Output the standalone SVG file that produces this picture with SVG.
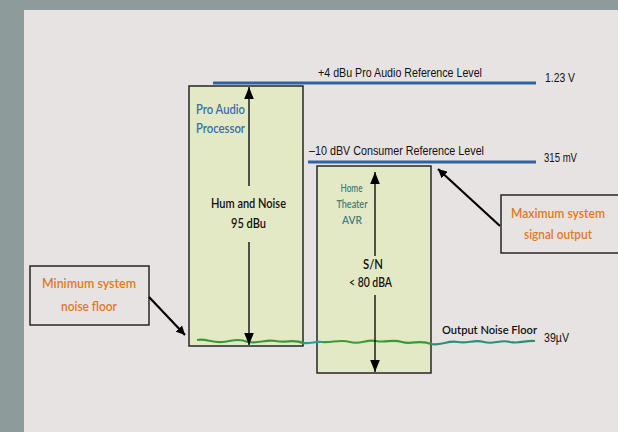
<svg xmlns="http://www.w3.org/2000/svg" width="618" height="432" viewBox="0 0 618 432">
<defs>
<style>
.lbl{font-family:"Liberation Sans",Arial,sans-serif;font-size:12.5px;fill:#111}
.cal{font-family:"Lato","Open Sans",sans-serif;font-size:13px;font-weight:600}
.sm{font-size:12px}
.box{fill:#e4e9c5;stroke:#1a1a1a;stroke-width:1.4}
.call{fill:none;stroke:#1a1a1a;stroke-width:1.4}
.ref{stroke:#2f64a4;stroke-width:3;fill:none}
.arr{stroke:#000;stroke-width:1.3;fill:none}
</style>
<marker id="ah" viewBox="0 0 10 10" refX="10" refY="5" markerWidth="9" markerHeight="9" markerUnits="userSpaceOnUse" orient="auto"><path d="M0,0 L10,5 L0,10 Z" fill="#000"/></marker>
<marker id="ah2" viewBox="0 0 10 10" refX="10" refY="5" markerWidth="12" markerHeight="12" markerUnits="userSpaceOnUse" orient="auto"><path d="M0,1 L10,5 L0,9 Z" fill="#000"/></marker>
</defs>
<rect x="0" y="0" width="618" height="432" fill="#8d9b9b"/>
<rect x="24" y="10" width="594" height="422" fill="#e8e3e3"/>

<g id="pro-audio-processor">
<rect class="box" x="189" y="86" width="114" height="260"/>
<text class="cal" x="196" y="114" fill="#3a6fa8" textLength="49" lengthAdjust="spacingAndGlyphs">Pro Audio</text>
<text class="cal" x="196" y="133" fill="#3a6fa8" textLength="49" lengthAdjust="spacingAndGlyphs">Processor</text>
<text class="cal" x="248.5" y="208" fill="#111" text-anchor="middle" textLength="75" lengthAdjust="spacingAndGlyphs">Hum and Noise</text>
<text class="cal" x="248.5" y="228" fill="#111" text-anchor="middle" textLength="35" lengthAdjust="spacingAndGlyphs">95 dBu</text>
</g>

<g id="home-theater-avr">
<rect class="box" x="317" y="166" width="114" height="207"/>
<text class="cal sm" x="351.5" y="192" fill="#3c7d82" text-anchor="middle" textLength="22" lengthAdjust="spacingAndGlyphs">Home</text>
<text class="cal sm" x="352" y="208" fill="#3c7d82" text-anchor="middle" textLength="31" lengthAdjust="spacingAndGlyphs">Theater</text>
<text class="cal sm" x="352" y="224" fill="#3c7d82" text-anchor="middle" textLength="20" lengthAdjust="spacingAndGlyphs">AVR</text>
<text class="cal" x="373" y="269" fill="#111" text-anchor="middle" textLength="20" lengthAdjust="spacingAndGlyphs">S/N</text>
<text class="cal" x="370.5" y="287" fill="#111" text-anchor="middle" textLength="43" lengthAdjust="spacingAndGlyphs">&lt; 80 dBA</text>
</g>

<g id="pro-reference-level">
<line class="ref" x1="213" y1="83" x2="536" y2="83"/>
<text class="lbl" x="318" y="77" textLength="164" lengthAdjust="spacingAndGlyphs">+4 dBu Pro Audio Reference Level</text>
<text class="lbl" x="545" y="82" textLength="30" lengthAdjust="spacingAndGlyphs">1.23 V</text>
</g>

<g id="consumer-reference-level">
<line class="ref" x1="308" y1="162" x2="536" y2="162"/>
<text class="lbl" x="309" y="155" textLength="175" lengthAdjust="spacingAndGlyphs">–10 dBV Consumer Reference Level</text>
<text class="lbl" x="544" y="162" textLength="33" lengthAdjust="spacingAndGlyphs">315 mV</text>
</g>

<g id="output-noise-floor">
<path d="M197,340 C205,338 212,343 222,342 C232,341 238,338 248,342 C258,344 266,339 276,341 C286,343 294,339 303,343" fill="none" stroke="#3b9a35" stroke-width="2.2"/>
<path d="M303,343 C310,344 316,341 322,342" fill="none" stroke="#2f9a98" stroke-width="2.2"/>
<path d="M322,342 C332,343 340,339 350,342 C360,345 366,339 376,341 C386,343 392,339 402,342 C412,345 420,339 431,344" fill="none" stroke="#3b9a35" stroke-width="2.2"/>
<path d="M431,344 C441,346 448,340 458,342 C468,344 474,339 484,342 C494,345 500,339 510,342 C520,344 526,340 535,341" fill="none" stroke="#2c8f78" stroke-width="2.2"/>
<text class="cal sm" x="442" y="334" fill="#111" font-weight="bold" textLength="95" lengthAdjust="spacingAndGlyphs">Output Noise Floor</text>
<text class="lbl" x="544" y="342" textLength="25" lengthAdjust="spacingAndGlyphs">39µV</text>
</g>

<g id="maximum-system-signal-output">
<rect class="call" x="501" y="195" width="125" height="58"/>
<text class="cal" x="558" y="218" fill="#e07a22" text-anchor="middle" textLength="94" lengthAdjust="spacingAndGlyphs">Maximum system</text>
<text class="cal" x="558" y="239" fill="#e07a22" text-anchor="middle" textLength="68" lengthAdjust="spacingAndGlyphs">signal output</text>
</g>

<g id="minimum-system-noise-floor">
<rect class="call" x="30" y="266" width="119" height="59"/>
<text class="cal" x="89" y="288" fill="#e07a22" text-anchor="middle" textLength="94" lengthAdjust="spacingAndGlyphs">Minimum system</text>
<text class="cal" x="89" y="311" fill="#e07a22" text-anchor="middle" textLength="56" lengthAdjust="spacingAndGlyphs">noise floor</text>
</g>

<g id="connectors">
<line class="arr" x1="249" y1="186" x2="249" y2="87" marker-end="url(#ah2)"/>
<line class="arr" x1="249" y1="242" x2="249" y2="345" marker-end="url(#ah2)"/>
<line class="arr" x1="375" y1="256" x2="375" y2="172" marker-end="url(#ah2)"/>
<line class="arr" x1="375" y1="295" x2="375" y2="372" marker-end="url(#ah2)"/>
<line x1="500" y1="226" x2="438" y2="169" stroke="#000" stroke-width="2.2" marker-end="url(#ah)"/>
<line x1="149" y1="297" x2="185" y2="335" stroke="#000" stroke-width="2.2" marker-end="url(#ah)"/>
</g>
</svg>
